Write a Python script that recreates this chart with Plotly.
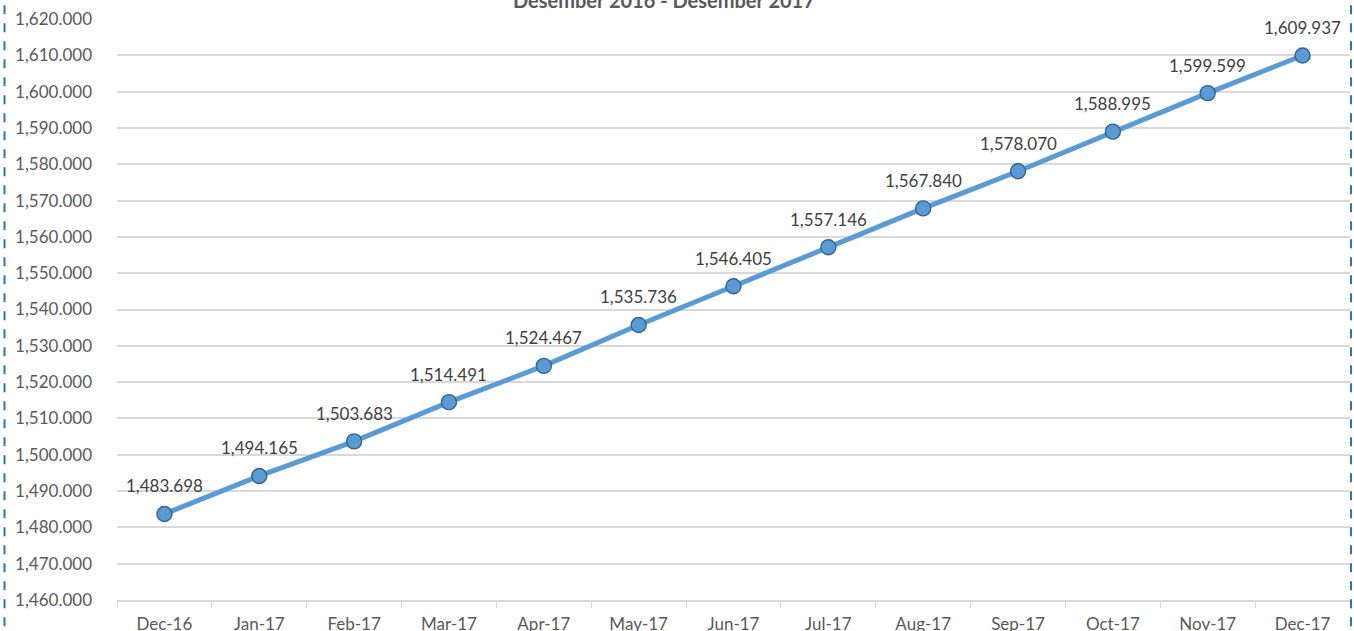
import plotly.graph_objects as go

months = ["Dec-16", "Jan-17", "Feb-17", "Mar-17", "Apr-17", "May-17", "Jun-17",
          "Jul-17", "Aug-17", "Sep-17", "Oct-17", "Nov-17", "Dec-17"]
values = [1483.698, 1494.165, 1503.683, 1514.491, 1524.467, 1535.736, 1546.405,
          1557.146, 1567.840, 1578.070, 1588.995, 1599.599, 1609.937]
title_text = "Desember 2016 - Desember 2017"

FONT = "Lato, 'Open Sans', sans-serif"
W, H = 1354, 631
L, R, T, B = 117, 4, 19, 31
pw = W - L - R
ph = H - T - B

fig = go.Figure()
fig.add_trace(go.Scatter(
    x=months, y=values, mode="lines+markers",
    line=dict(color="#5B9BD5", width=5),
    marker=dict(size=15, color="#5B9BD5", line=dict(color="#36618A", width=1.4)),
    hoverinfo="skip", showlegend=False,
))

for m, v in zip(months, values):
    fig.add_annotation(x=m, y=v, text=f"{v:,.3f}", showarrow=False,
                       yshift=28, font=dict(size=17, color="#404040", family=FONT))

# title (partially cut at the top)
fig.add_annotation(xref="paper", yref="paper",
                   x=(664 - L) / pw, y=1 + (T - 0) / ph,
                   text=f"<b>{title_text}</b>", showarrow=False,
                   xanchor="center", yanchor="middle",
                   font=dict(size=20, color="#595959", family=FONT))

# dashed outer border
for px in (4.5, 1351):
    xp = (px - L) / pw
    fig.add_shape(type="line", xref="paper", yref="paper",
                  x0=xp, x1=xp, y0=-0.2, y1=1.2,
                  line=dict(color="#2E75B6", width=2, dash="dash"))

fig.update_layout(
    width=W, height=H,
    margin=dict(l=L, r=R, t=T, b=B, autoexpand=False),
    paper_bgcolor="white", plot_bgcolor="white",
    font=dict(family=FONT, size=17, color="#595959"),
)
fig.update_xaxes(
    type="category", range=[-0.5, len(months) - 0.5],
    showgrid=False, showline=True, linecolor="#D9D9D9", linewidth=1.5,
    ticks="outside", tickson="boundaries", ticklen=6, tickcolor="#D9D9D9",
    tickfont=dict(size=17, color="#595959"), ticklabelstandoff=8, automargin=False,
)
fig.update_yaxes(
    range=[1460, 1620], dtick=10, tickformat=",.3f",
    showgrid=True, gridcolor="#D9D9D9", gridwidth=1.5, zeroline=False,
    showline=False, ticks="", tickfont=dict(size=17, color="#595959"),
    ticklabelstandoff=24, automargin=False,
)

fig.write_html("out.html", config={"displayModeBar": False},
               post_script="document.body.style.margin='0';document.body.style.overflow='hidden';")
